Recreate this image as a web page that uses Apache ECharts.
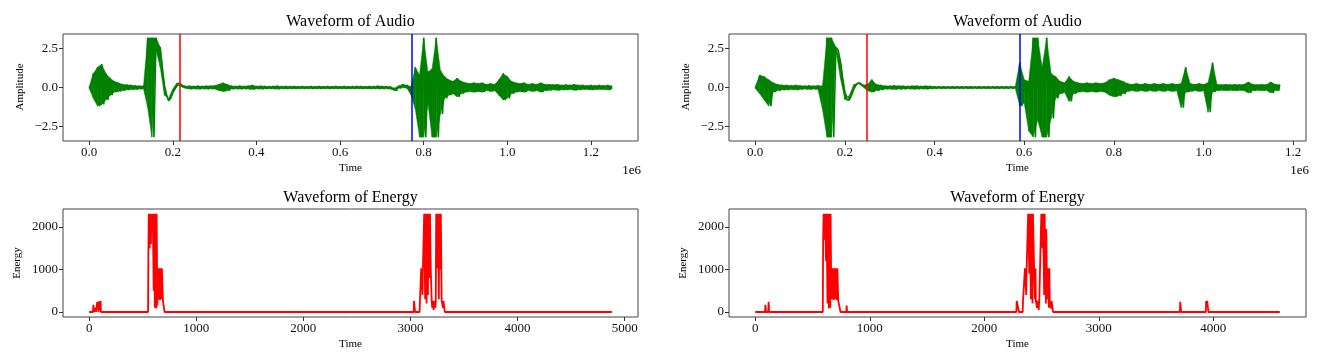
<!DOCTYPE html>
<html>
<head>
<meta charset="utf-8">
<script src="https://cdn.jsdelivr.net/npm/echarts@6/dist/echarts.min.js"></script>
<style>
html,body{margin:0;padding:0;background:#fff;}
#chart{width:1318px;height:359px;}
</style>
</head>
<body>
<div id="chart"></div>
<script>
// ---------- DATA ----------
const audioStep = 10000; // samples between envelope readings
// Left recording: upper / lower envelope readings (upper at i*step, lower at i*step + step/2)
const audio1Upper = [0.05, 0.9, 1.3, 1.5, 0.9, 0.6, 0.4, 0.3, 0.2, 0.18,
 0.15, 0.12, 0.1, 0.1, 3.2, 3.2, 3.2, 2.6, 0.15, -0.85,
 -0.35, 0.1, 0.2, 0.08, 0.1, 0.08, 0.1, 0.08, 0.1, 0.1,
 0.12, 0.2, 0.3, 0.2, 0.1, 0.08, 0.1, 0.08, 0.1, 0.15,
 0.08, 0.1, 0.08, 0.07, 0.08, 0.1, 0.07, 0.08, 0.07, 0.08,
 0.06, 0.07, 0.06, 0.07, 0.06, 0.07, 0.06, 0.07, 0.06, 0.08,
 0.06, 0.07, 0.06, 0.07, 0.08, 0.07, 0.06, 0.08, 0.07, 0.1,
 0.08, 0.07, 0.05, -0.05, 0.1, 0.2, 0.15, 0.05, 1.3, 0.8,
 3.2, 1.0, 1.2, 3.2, 1.1, 0.7, 0.5, 0.4, 0.6, 0.4,
 0.3, 0.25, 0.3, 0.25, 0.3, 0.2, 0.25, 0.2, 0.5, 0.9,
 0.7, 0.4, 0.3, 0.25, 0.3, 0.2, 0.25, 0.2, 0.3, 0.2,
 0.2, 0.18, 0.2, 0.15, 0.18, 0.15, 0.2, 0.15, 0.15, 0.12,
 0.15, 0.12, 0.15, 0.12, 0.15, 0.1];
const audio1Lower = [-0.05, -0.7, -1.2, -1.1, -0.8, -0.5, -0.3, -0.25, -0.2, -0.15,
 -0.12, -0.12, -0.1, -0.08, -1.3, -3.2, 2.4, 1.3, -0.5, -0.7,
 -0.1, 0.3, 0.05, -0.05, -0.1, -0.08, -0.1, -0.08, -0.1, -0.08,
 -0.1, -0.2, -0.25, -0.2, -0.1, -0.08, -0.1, -0.08, -0.1, -0.12,
 -0.08, -0.1, -0.08, -0.07, -0.08, -0.1, -0.07, -0.08, -0.07, -0.08,
 -0.06, -0.07, -0.06, -0.07, -0.06, -0.07, -0.06, -0.07, -0.06, -0.07,
 -0.06, -0.07, -0.06, -0.07, -0.06, -0.07, -0.06, -0.08, -0.07, -0.08,
 -0.08, -0.07, -0.1, -0.2, -0.05, 0.0, -0.05, -0.5, -1.4, -3.2,
 -3.2, -1.0, -3.2, -3.2, -1.7, -0.7, -0.5, -0.4, -0.6, -0.4,
 -0.3, -0.25, -0.3, -0.25, -0.3, -0.2, -0.25, -0.2, -0.5, -0.8,
 -0.7, -0.4, -0.3, -0.25, -0.3, -0.2, -0.25, -0.2, -0.3, -0.2,
 -0.18, -0.15, -0.18, -0.15, -0.15, -0.12, -0.18, -0.15, -0.12, -0.12,
 -0.15, -0.12, -0.12, -0.12, -0.15, -0.1];
// Right recording
const audio2Upper = [0.05, 0.8, 0.7, 0.5, 0.3, 0.2, 0.15, 0.15, 0.12, 0.15,
 0.12, 0.1, 0.12, 0.1, 0.12, 0.1, 3.2, 3.2, 2.6, 1.7,
 -0.3, -0.8, -0.1, 0.3, 0.15, 0.2, 0.5, 0.2, 0.15, 0.1,
 0.1, 0.12, 0.1, 0.1, 0.08, 0.1, 0.1, 0.08, 0.1, 0.08,
 0.06, 0.05, 0.06, 0.05, 0.06, 0.05, 0.06, 0.05, 0.06, 0.05,
 0.06, 0.05, 0.06, 0.05, 0.06, 0.05, 0.06, 0.05, 0.06, 1.6,
 0.5, 0.4, 3.2, 3.2, 1.3, 3.2, 0.9, 0.7, 0.4, 0.3,
 0.7, 0.4, 0.3, 0.25, 0.3, 0.25, 0.3, 0.25, 0.3, 0.5,
 0.6, 0.5, 0.4, 0.25, 0.2, 0.25, 0.2, 0.25, 0.2, 0.25,
 0.2, 0.25, 0.2, 0.25, 0.2, 0.25, 1.3, 0.25, 0.2, 0.25,
 0.2, 0.3, 1.6, 0.2, 0.18, 0.2, 0.18, 0.2, 0.18, 0.2,
 0.35, 0.2, 0.18, 0.2, 0.18, 0.35, 0.2, 0.18];
const audio2Lower = [-0.05, -0.4, -0.8, -1.2, -0.3, -0.2, -0.15, -0.15, -0.12, -0.15,
 -0.12, -0.1, -0.12, -0.1, -0.12, -1.4, -3.2, -3.2, 2.4, 0.6,
 -0.8, -0.5, 0.2, 0.25, 0.05, -0.2, -0.3, -0.2, -0.15, -0.1,
 -0.1, -0.12, -0.1, -0.1, -0.08, -0.1, -0.1, -0.08, -0.1, -0.08,
 -0.06, -0.05, -0.06, -0.05, -0.06, -0.05, -0.06, -0.05, -0.06, -0.05,
 -0.06, -0.05, -0.06, -0.05, -0.06, -0.05, -0.06, -0.05, -0.05, -1.2,
 -1.0, -2.8, -3.2, -2.1, -3.2, -3.2, -2.0, -0.7, -0.4, -0.3,
 -0.9, -0.4, -0.3, -0.25, -0.3, -0.25, -0.3, -0.25, -0.3, -0.5,
 -0.6, -0.55, -0.4, -0.25, -0.2, -0.25, -0.2, -0.25, -0.2, -0.25,
 -0.2, -0.25, -0.2, -0.25, -0.2, -1.3, -0.3, -0.25, -0.2, -0.25,
 -0.2, -1.6, -0.3, -0.2, -0.18, -0.2, -0.18, -0.2, -0.18, -0.2,
 -0.35, -0.2, -0.18, -0.2, -0.18, -0.35, -0.2, -0.18];
// Start / end markers (samples)
const audio1Markers = [217500, 772000];
const audio2Markers = [249000, 590000];

// Energy per frame: [frame, energy]
const energy1 = [[0,0],[35,0],[40,170],[45,0],[55,0],[60,100],[65,0],[72,0],[75,230],[80,60],[84,240],[88,0],[95,0],[98,260],[103,50],[107,260],[110,0],
 [550,0],[554,1700],[557,2310],[562,2310],[565,1500],[568,2310],[574,2310],[577,1600],[580,2310],[586,2310],[590,1900],[594,2310],[600,2310],[603,500],[606,2310],[610,2310],[613,100],[616,2310],[620,1200],[623,2310],[627,80],[630,2310],[634,2310],[637,150],[640,1030],[645,1030],[648,300],[652,1030],[658,1030],[661,280],[665,1030],[672,1030],[675,300],[679,1030],[686,1030],[689,260],[695,260],[700,260],[704,0],
 [3030,0],[3033,260],[3040,260],[3043,0],[3085,0],[3088,260],[3095,260],[3100,1030],[3108,1030],[3112,400],[3116,1030],[3124,1030],[3128,2310],[3134,2310],[3137,300],[3140,2310],[3147,2310],[3150,200],[3153,2310],[3160,2310],[3163,400],[3166,2310],[3174,2310],[3178,800],[3182,2310],[3186,2310],[3189,1030],[3195,1030],[3198,260],[3203,100],[3207,260],[3212,260],[3216,50],[3220,260],[3228,260],[3232,100],[3236,260],[3240,2310],[3248,2310],[3251,1030],[3255,2310],[3262,2310],[3265,300],[3268,2310],[3276,2310],[3279,1000],[3283,2310],[3288,2310],[3291,260],[3300,260],[3304,100],[3308,260],[3316,260],[3320,0],[4880,0]];
const energy2 = [[0,0],[85,0],[89,170],[93,0],[113,0],[117,240],[121,0],
 [590,0],[593,1700],[597,2310],[602,2310],[605,1700],[609,2310],[615,2310],[618,1200],[622,2310],[628,2310],[631,200],[634,2310],[640,2310],[643,80],[646,2310],[652,2310],[655,100],[658,2310],[662,1030],[668,1030],[671,300],[675,1030],[682,1030],[685,280],[689,1030],[696,1030],[699,300],[703,1030],[710,1030],[713,280],[717,1030],[722,1030],[725,260],[735,260],[740,260],[745,0],[795,0],[798,150],[802,0],
 [2280,0],[2283,260],[2300,260],[2303,0],[2335,0],[2338,260],[2350,260],[2355,1030],[2362,1030],[2366,400],[2370,1030],[2378,1030],[2383,2310],[2390,2310],[2393,900],[2397,2310],[2404,2310],[2407,300],[2411,2310],[2418,2310],[2421,200],[2425,2310],[2432,2310],[2435,1030],[2440,1030],[2443,300],[2447,1030],[2450,260],[2458,260],[2461,100],[2465,260],[2472,260],[2475,50],[2480,260],[2495,260],[2498,2310],[2505,2310],[2508,1500],[2512,2310],[2520,2310],[2523,400],[2527,2310],[2535,2310],[2538,200],[2541,1950],[2546,1950],[2549,300],[2552,1030],[2560,1030],[2564,100],[2568,1030],[2571,260],[2580,260],[2584,80],[2588,260],[2596,260],[2600,0],
 [3708,0],[3711,240],[3716,240],[3719,0],
 [3934,0],[3937,260],[3942,150],[3947,260],[3952,260],[3956,0],[4580,0]];

// Tick values
const audioTicks1 = [0, 200000, 400000, 600000, 800000, 1000000, 1200000];
const audioTicks2 = [0, 200000, 400000, 600000, 800000, 1000000, 1200000];
const ampTicks = [-2.5, 0, 2.5];
const energyTicks1 = [0, 1000, 2000, 3000, 4000, 5000];
const energyTicks2 = [0, 1000, 2000, 3000, 4000];
const energyYTicks = [0, 1000, 2000];

// ---------- BUILD ----------
function zigzag(upper, lower, step) {
  const out = [];
  for (let i = 0; i < upper.length; i++) {
    out.push([i * step, upper[i]]);
    if (i < upper.length - 1) out.push([i * step + step / 2, lower[i]]);
  }
  return out;
}
// band segments: [t_i, U_i, L_i, t_i+1, U_i+1, L_i+1]
function bandSegments(upper, lower, step) {
  const out = [];
  for (let i = 0; i < upper.length - 1; i++) {
    out.push([i * step, upper[i], lower[i], (i + 1) * step, upper[i + 1], lower[i + 1]]);
  }
  return out;
}
const FONT = "'Liberation Serif', 'Times New Roman', 'DejaVu Serif', serif";
const GREEN = '#008000';
const grids = [
  {left: 63, top: 34, width: 575, height: 107},
  {left: 729, top: 34, width: 577, height: 107},
  {left: 63, top: 209, width: 575, height: 108},
  {left: 729, top: 209, width: 577, height: 108}
];
const minus = v => String(v).replace('-', '\u2212');

function axis(idx, min, max, ticks, fmt) {
  return {
    type: 'value', gridIndex: idx, min: min, max: max,
    axisLine: {show: false, onZero: false},
    splitLine: {show: false},
    axisTick: {show: true, inside: false, length: 4, lineStyle: {color: '#333', width: 1}, customValues: ticks},
    axisLabel: {show: true, margin: 5, color: '#111', fontFamily: FONT, fontSize: 13, customValues: ticks, formatter: fmt}
  };
}
const fmtE6 = v => (v / 1e6).toFixed(1);
const fmtAmp = v => minus(v.toFixed(1));
const fmtInt = v => String(Math.round(v));

function text(x, y, str, size, opts) {
  opts = opts || {};
  return {
    type: 'text', x: x, y: y, rotation: opts.rotation || 0, silent: true, z: 100,
    style: {
      text: str, fill: '#000', font: size + 'px ' + FONT,
      textAlign: opts.align || 'center', textVerticalAlign: 'middle',
      align: opts.align || 'center', verticalAlign: 'middle'
    }
  };
}

const markers = (arr) => ({
  symbol: 'none', silent: true, animation: false,
  label: {show: false},
  lineStyle: {type: 'solid', width: 1.5},
  data: [
    {xAxis: arr[0], lineStyle: {color: '#ff0000', type: 'solid', width: 1.5}},
    {xAxis: arr[1], lineStyle: {color: '#0000ff', type: 'solid', width: 1.5}}
  ]
});

function renderBand(params, api) {
  const p1 = api.coord([api.value(0), api.value(1)]);
  const p2 = api.coord([api.value(0), api.value(2)]);
  const p3 = api.coord([api.value(3), api.value(5)]);
  const p4 = api.coord([api.value(3), api.value(4)]);
  return {
    type: 'polygon',
    shape: {points: [p1, p2, p3, p4]},
    style: {fill: GREEN, stroke: GREEN, lineWidth: 0.5}
  };
}

function audioSeries(idx, upper, lower, marks) {
  return [
    {type: 'custom', xAxisIndex: idx, yAxisIndex: idx, renderItem: renderBand,
     data: bandSegments(upper, lower, audioStep), silent: true, z: 2,
     encode: {x: [0, 3], y: [1, 2, 4, 5]}},
    {type: 'line', xAxisIndex: idx, yAxisIndex: idx, data: zigzag(upper, lower, audioStep),
     showSymbol: false, symbol: 'none', lineStyle: {color: GREEN, width: 1.6}, z: 3,
     markLine: markers(marks)}
  ];
}

const option = {
  animation: false,
  backgroundColor: '#fff',
  grid: grids.map(g => Object.assign({show: true, borderColor: '#444', borderWidth: 1, backgroundColor: 'transparent'}, g)),
  xAxis: [
    axis(0, -62500, 1312500, audioTicks1, fmtE6),
    axis(1, -58500, 1228500, audioTicks2, fmtE6),
    axis(2, -244, 5124, energyTicks1, fmtInt),
    axis(3, -229, 4809, energyTicks2, fmtInt)
  ],
  yAxis: [
    axis(0, -3.45, 3.45, ampTicks, fmtAmp),
    axis(1, -3.45, 3.45, ampTicks, fmtAmp),
    axis(2, -118, 2423, energyYTicks, fmtInt),
    axis(3, -118, 2423, energyYTicks, fmtInt)
  ],
  series: [].concat(
    audioSeries(0, audio1Upper, audio1Lower, audio1Markers),
    audioSeries(1, audio2Upper, audio2Lower, audio2Markers),
    [
      {type: 'line', xAxisIndex: 2, yAxisIndex: 2, data: energy1,
       showSymbol: false, symbol: 'none', lineStyle: {color: '#ff0000', width: 1.8}},
      {type: 'line', xAxisIndex: 3, yAxisIndex: 3, data: energy2,
       showSymbol: false, symbol: 'none', lineStyle: {color: '#ff0000', width: 1.8}}
    ]
  ),
  graphic: [
    text(350.5, 22, 'Waveform of Audio', 16),
    text(1017.5, 22, 'Waveform of Audio', 16),
    text(350.5, 198, 'Waveform of Energy', 16),
    text(1017.5, 198, 'Waveform of Energy', 16),
    text(350.5, 168, 'Time', 11),
    text(1017.5, 168, 'Time', 11),
    text(350.5, 344, 'Time', 11),
    text(1017.5, 344, 'Time', 11),
    text(20, 87, 'Amplitude', 11, {rotation: Math.PI / 2}),
    text(686, 87, 'Amplitude', 11, {rotation: Math.PI / 2}),
    text(17, 263, 'Energy', 11, {rotation: Math.PI / 2}),
    text(683, 263, 'Energy', 11, {rotation: Math.PI / 2}),
    text(641, 171, '1e6', 13, {align: 'right'}),
    text(1309, 171, '1e6', 13, {align: 'right'})
  ]
};
const chart = echarts.init(document.getElementById('chart'), null, {renderer: 'canvas'});
chart.setOption(option);
</script>
</body>
</html>
